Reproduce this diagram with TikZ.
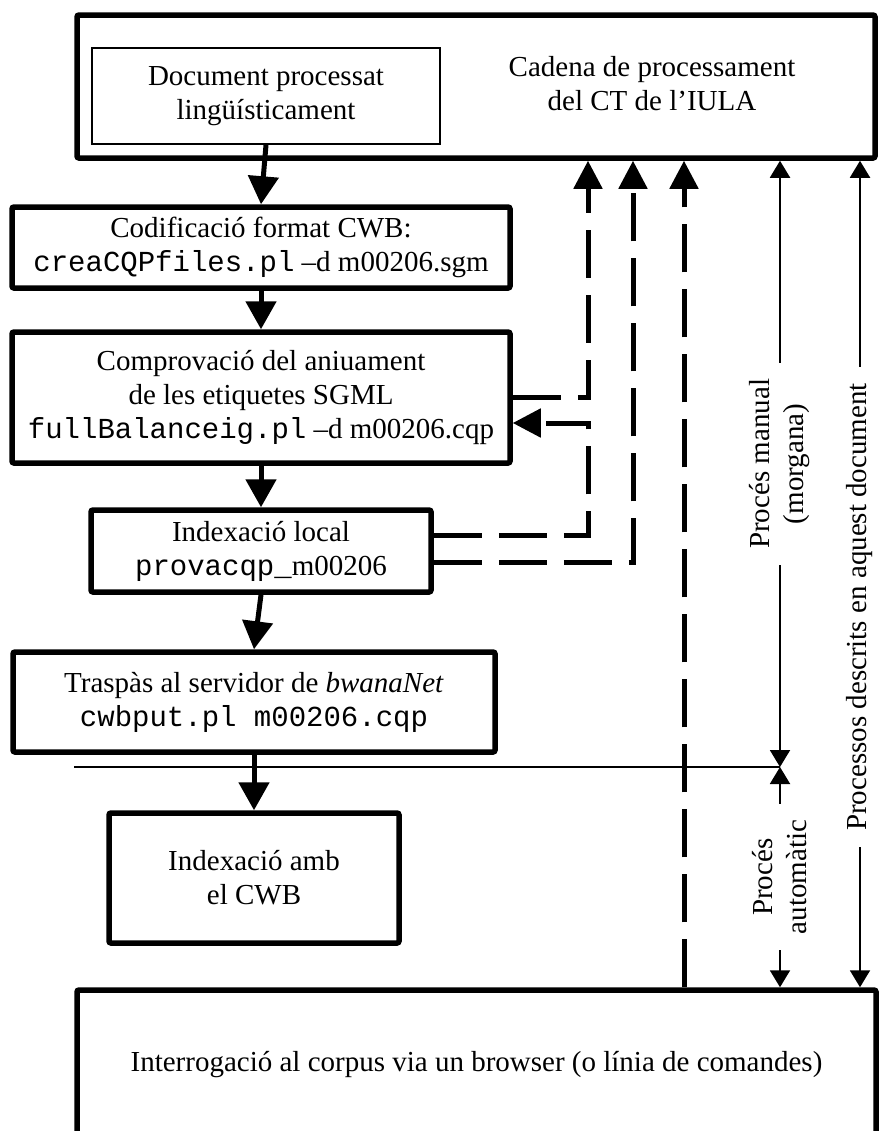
\documentclass[tikz,border=0pt]{standalone}
\usepackage{fontspec}
\setmainfont{Liberation Serif}
\setmonofont{Liberation Mono}
\usetikzlibrary{positioning,arrows.meta}

\tikzset{
  stepbox/.style={draw, line width=2.75pt, rounded corners=1pt, align=center, inner sep=2pt},
  flow/.style={line width=2.5pt, -{Triangle[width=15pt,length=14pt]}},
  feedback/.style={line width=2.5pt, dash pattern=on 24pt off 8.5pt, -{Triangle[width=14pt,length=14pt]}},
  span/.style={line width=1pt, {Triangle[width=10pt,length=8.5pt]}-{Triangle[width=10pt,length=8.5pt]}},
  spanlabel/.style={fill=white, rotate=90, align=center, inner xsep=8pt, inner ysep=2pt},
}

\begin{document}
\begin{tikzpicture}[x=0.5pt, y=-0.5pt, font=\fontsize{14.5}{17}\selectfont]
  \useasboundingbox (0,0) rectangle (880,1131);
  \clip (0,0) rectangle (880,1131);
  % frames
  \node[stepbox, minimum width=399pt, minimum height=71.5pt] (cadena) at (476,86.5) {};
  \node[align=center] (cadenatxt) at (652,84) {Cadena de processament\\del CT de l'IULA};
  \node[draw, line width=1pt, align=center, minimum width=174pt, minimum height=48pt] (doc) at (266,96) {Document processat\\lingüísticament};
  \node[stepbox, minimum width=399.5pt, minimum height=75pt] (query) at (476.5,1065) {Interrogació al corpus via un browser (o línia de comandes)};
  % steps
  \node[stepbox, minimum width=249pt, minimum height=40.5pt] (cwb) at (261,247.5) {Codificació format CWB:\\\texttt{creaCQPfiles.pl} --d m00206.sgm};
  \node[stepbox, on grid, below=75pt of cwb, minimum width=249pt, minimum height=65.5pt] (sgml) {Comprovació del aniuament\\de les etiquetes SGML\\\texttt{fullBalanceig.pl} --d m00206.cqp};
  \node[stepbox, on grid, below=76.75pt of sgml, minimum width=170pt, minimum height=41pt] (local) {Indexació local\\\texttt{provacqp\_}m00206};
  \node[stepbox, on grid, below=75.5pt of local, xshift=-3.5pt, minimum width=241pt, minimum height=50pt] (traspas) {Traspàs al servidor de \textit{bwanaNet}\\\texttt{cwbput.pl m00206.cqp}};
  \node[stepbox, on grid, below=88pt of traspas, minimum width=145pt, minimum height=65pt] (cwbidx) {Indexació amb\\el CWB};
  % main flow
  \draw[flow] (doc.south) -- (cwb.north);
  \draw[flow] (cwb.south) -- (sgml.north);
  \draw[flow] (sgml.south) -- (local.north);
  \draw[flow] (local.south) -- (traspas.north);
  \draw[flow] (traspas.south) -- (cwbidx.north);
  % dashed returns
  \coordinate (up1) at (588,0);
  \coordinate (up2) at (633,0);
  \coordinate (up3) at (684,0);
  \coordinate (fbin) at ([yshift=-12.75pt]sgml.east);
  \draw[feedback] (sgml.east) -| (up1 |- cadena.south);
  \draw[feedback] ([yshift=8pt]local.east) -| (up1 |- fbin) -- (fbin);
  \draw[feedback] ([yshift=-5.5pt]local.east) -| (up2 |- cadena.south);
  \draw[feedback] (up3 |- query.north) -- (up3 |- cadena.south);
  % spans on the right
  \coordinate (manual) at (780,0);
  \coordinate (docs) at (860,0);
  \coordinate (sep) at (780,767);
  \draw[line width=0.75pt] (cadena.west |- sep) -- (sep);
  \draw[span] (manual |- cadena.south) -- node[spanlabel] {Procés manual\\(morgana)} (sep);
  \draw[span] (sep) -- node[spanlabel] {Procés\\automàtic} (manual |- query.north);
  \draw[span] (docs |- cadena.south) -- node[spanlabel, pos=0.54] {Processos descrits en aquest document} (docs |- query.north);
\end{tikzpicture}
\end{document}
